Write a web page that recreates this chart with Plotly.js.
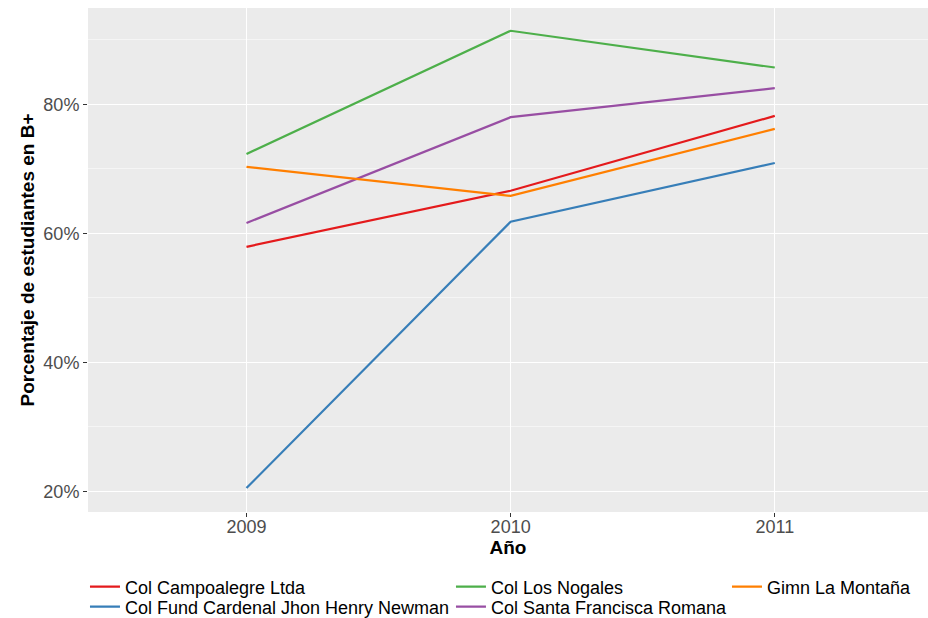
<!DOCTYPE html>
<html>
<head>
<meta charset="utf-8">
<script src="https://cdn.plot.ly/plotly-3.0.1.min.js"></script>
<style>html,body{margin:0;padding:0;background:#fff;}#chart{width:928px;height:618px;}</style>
</head>
<body>
<div id="chart"></div>
<script>
const years = [2009, 2010, 2011];
const schools = [
  "Col Campoalegre Ltda",
  "Col Fund Cardenal Jhon Henry Newman",
  "Col Los Nogales",
  "Col Santa Francisca Romana",
  "Gimn La Montaña"
];
const campoalegre = [0.579, 0.666, 0.782];
const newman = [0.205, 0.618, 0.709];
const nogales = [0.723, 0.914, 0.857];
const santaFrancisca = [0.616, 0.780, 0.825];
const montana = [0.703, 0.658, 0.762];
const seriesValues = [campoalegre, newman, nogales, santaFrancisca, montana];
const colors = ["#E41A1C", "#377EB8", "#4DAF4A", "#984EA3", "#FF7F00"];
const yTickVals = [0.2, 0.4, 0.6, 0.8];
const yTickText = ["20%", "40%", "60%", "80%"];

const FONT = "Liberation Sans, Arial, sans-serif";
const legendIds = ["legend", "legend2", "legend3", "legend4", "legend5"];
// legend placement (paper coordinates) for each school
const legendPos = [
  {x: -0.0036, y: -0.1488},
  {x: -0.0036, y: -0.1885},
  {x: 0.4321, y: -0.1488},
  {x: 0.4321, y: -0.1885},
  {x: 0.7607, y: -0.1488}
];

const traces = schools.map((s, i) => ({
  x: years,
  y: seriesValues[i],
  type: "scatter",
  mode: "lines",
  name: s,
  line: {color: colors[i], width: 2.2},
  legend: legendIds[i],
  hoverinfo: "x+y+name"
}));

const layout = {
  width: 928,
  height: 618,
  margin: {l: 88, r: 0, t: 8, b: 106, autoexpand: false},
  paper_bgcolor: "#FFFFFF",
  plot_bgcolor: "#EBEBEB",
  font: {family: FONT, color: "#000000"},
  xaxis: {
    range: [2008.4, 2011.58],
    tickvals: years,
    ticktext: years.map(String),
    showgrid: true,
    gridcolor: "#FFFFFF",
    gridwidth: 1.1,
    zeroline: false,
    showline: false,
    ticks: "outside",
    ticklen: 4,
    tickwidth: 1,
    tickcolor: "#333333",
    ticklabelstandoff: -6,
    tickfont: {family: FONT, size: 18, color: "#4D4D4D"},
    title: {text: "Año", font: {family: FONT, size: 19, color: "#000000", weight: "bold"}, standoff: 4},
    fixedrange: true
  },
  yaxis: {
    range: [0.1679, 0.9493],
    tickvals: yTickVals,
    ticktext: yTickText,
    showgrid: true,
    gridcolor: "#FFFFFF",
    gridwidth: 1.1,
    minor: {tickvals: [0.3, 0.5, 0.7, 0.9], showgrid: true, gridcolor: "#FFFFFF", gridwidth: 0.5, ticks: ""},
    zeroline: false,
    showline: false,
    ticks: "outside",
    ticklen: 4,
    tickwidth: 1,
    tickcolor: "#333333",
    tickfont: {family: FONT, size: 18, color: "#4D4D4D"},
    title: {text: "Porcentaje de estudiantes en B+", font: {family: FONT, size: 19, color: "#000000", weight: "bold"}, standoff: 3},
    fixedrange: true
  },
  showlegend: true
};

legendIds.forEach((id, i) => {
  layout[id] = {
    x: legendPos[i].x,
    y: legendPos[i].y,
    xanchor: "left",
    yanchor: "middle",
    orientation: "v",
    bgcolor: "rgba(0,0,0,0)",
    font: {family: FONT, size: 18, color: "#000000"},
    itemclick: false,
    itemdoubleclick: false
  };
});

Plotly.newPlot("chart", traces, layout, {displayModeBar: false, staticPlot: true});
</script>
</body>
</html>
